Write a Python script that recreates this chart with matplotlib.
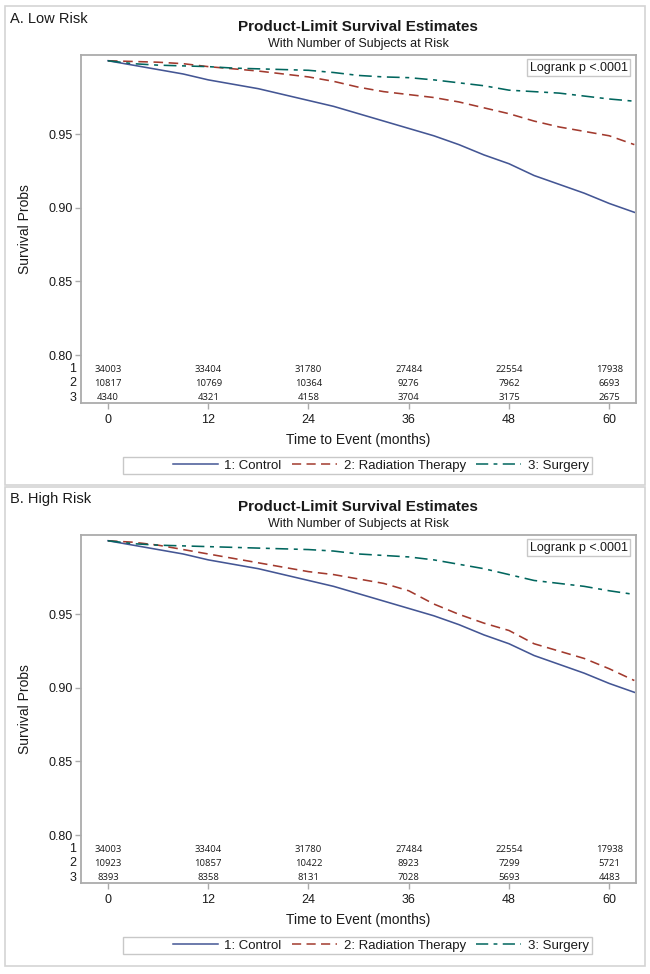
import matplotlib
matplotlib.use("Agg")
import matplotlib.pyplot as plt
from matplotlib.patches import Rectangle
from matplotlib.lines import Line2D
from matplotlib.transforms import blended_transform_factory

plt.rcParams['font.family'] = ['Liberation Sans', 'DejaVu Sans']

W, H = 650, 974

# ---------------- data ----------------
months = [0, 3, 6, 9, 12, 15, 18, 21, 24, 27, 30, 33, 36, 39, 42, 45, 48, 51, 54, 57, 60, 63]

control = [1.000, 0.997, 0.994, 0.991, 0.987, 0.984, 0.981, 0.977, 0.973, 0.969, 0.964, 0.959,
           0.954, 0.949, 0.943, 0.936, 0.930, 0.922, 0.916, 0.910, 0.903, 0.897]

low_radiation = [1.000, 0.9995, 0.999, 0.998, 0.996, 0.9945, 0.993, 0.991, 0.989, 0.986, 0.982, 0.979,
                 0.977, 0.975, 0.972, 0.968, 0.964, 0.959, 0.955, 0.952, 0.949, 0.943]
low_surgery = [1.000, 0.998, 0.997, 0.9965, 0.996, 0.995, 0.9945, 0.994, 0.9935, 0.992, 0.990, 0.989,
               0.9885, 0.987, 0.985, 0.983, 0.980, 0.979, 0.978, 0.976, 0.974, 0.9725]

high_radiation = [1.000, 0.999, 0.997, 0.994, 0.991, 0.988, 0.985, 0.982, 0.979, 0.977, 0.974, 0.971,
                  0.966, 0.957, 0.950, 0.944, 0.939, 0.930, 0.925, 0.920, 0.913, 0.905]
high_surgery = [1.000, 0.998, 0.997, 0.9965, 0.996, 0.9955, 0.995, 0.9945, 0.994, 0.993, 0.991, 0.990,
                0.989, 0.987, 0.984, 0.981, 0.977, 0.973, 0.971, 0.969, 0.966, 0.9635]

risk_times = [0, 12, 24, 36, 48, 60]
low_risk_control = [34003, 33404, 31780, 27484, 22554, 17938]
low_risk_radiation = [10817, 10769, 10364, 9276, 7962, 6693]
low_risk_surgery = [4340, 4321, 4158, 3704, 3175, 2675]
high_risk_control = [34003, 33404, 31780, 27484, 22554, 17938]
high_risk_radiation = [10923, 10857, 10422, 8923, 7299, 5721]
high_risk_surgery = [8393, 8358, 8131, 7028, 5693, 4483]

y_ticks = [0.80, 0.85, 0.90, 0.95]
group_labels = ['1: Control', '2: Radiation Therapy', '3: Surgery']
panel_titles = ['A. Low Risk', 'B. High Risk']

colors = ['#445694', '#A23A2E', '#01665E']

panels = [
    (panel_titles[0], [control, low_radiation, low_surgery],
     [low_risk_control, low_risk_radiation, low_risk_surgery]),
    (panel_titles[1], [control, high_radiation, high_surgery],
     [high_risk_control, high_risk_radiation, high_risk_surgery]),
]

fig = plt.figure(figsize=(W / 100, H / 100), dpi=100)
fig.patch.set_facecolor('white')


def fx(x):
    return x / W


def fy(y):
    return 1 - y / H


def add_line(ax, x, y, i, lw=1.15):
    if i == 0:
        ls = dict(linestyle='-')
    elif i == 1:
        ls = dict(dashes=(6, 3.5))
    else:
        ls = dict(dashes=(8, 3.5, 2.5, 3.5))
    return ax.plot(x, y, color=colors[i], lw=lw, **ls)[0]


spine_col = '#ababab'
text_col = '#1a1a1a'

for k, (ptitle, curves, risks) in enumerate(panels):
    off = 480 * k
    # panel border
    top = 6 if k == 0 else 487
    bot = 485 if k == 0 else 966
    fig.patches.append(Rectangle((fx(5), fy(bot)), fx(640), (bot - top) / H,
                                 transform=fig.transFigure, fill=False,
                                 edgecolor='#d4d4d4', lw=1.2))
    fig.text(fx(10), fy(19 + off), ptitle, fontsize=10.5, ha='left', va='center', color=text_col)
    fig.text(fx(358), fy(27 + off), 'Product-Limit Survival Estimates', fontsize=11,
             fontweight='bold', ha='center', va='center', color=text_col)
    fig.text(fx(358), fy(44 + off), 'With Number of Subjects at Risk', fontsize=9,
             ha='center', va='center', color=text_col)

    al, at, ar, ab = 81, 55 + off, 636, 403 + off
    ax = fig.add_axes([fx(al), fy(ab), (ar - al) / W, (ab - at) / H])
    for i, c in enumerate(curves):
        add_line(ax, months, c, i)
    ax.set_xlim(-3.23, 63.2)
    ax.set_ylim(0.7674, 1.0039)
    ax.set_xticks(risk_times)
    ax.set_yticks(y_ticks)
    ax.set_yticklabels([f'{v:.2f}' for v in y_ticks])
    for s in ax.spines.values():
        s.set_color(spine_col)
        s.set_linewidth(1.3)
    ax.tick_params(axis='both', colors=spine_col, labelcolor=text_col, labelsize=9,
                   length=4, width=1.0, direction='out')
    ax.tick_params(axis='x', pad=4)
    ax.tick_params(axis='y', pad=2)
    ax.set_xlabel('Time to Event (months)', fontsize=10, color=text_col, labelpad=5)
    fig.text(fx(25), fy((at + ab) / 2), 'Survival Probs', rotation=90, fontsize=10,
             ha='center', va='center', color=text_col)

    # Logrank box
    ax.text(0.985, 0.98, 'Logrank p <.0001', transform=ax.transAxes, ha='right', va='top',
            fontsize=9, color=text_col,
            bbox=dict(boxstyle='square,pad=0.2', facecolor='white', edgecolor='#c8c8c8', lw=1.0))

    # at risk table
    tr = blended_transform_factory(ax.transData, ax.transAxes)
    trl = blended_transform_factory(fig.transFigure, ax.transAxes)
    row_y = [(ab - (369 + off)) / (ab - at), (ab - (383 + off)) / (ab - at), (ab - (398 + off)) / (ab - at)]
    for r, (vals, yy) in enumerate(zip(risks, row_y)):
        fig.text(fx(76), yy, str(r + 1), transform=trl, ha='right', va='center',
                 fontsize=9, color=text_col)
        for t, v in zip(risk_times, vals):
            ax.text(t, yy, str(v), transform=tr, ha='center', va='center', fontsize=6.8,
                    family=['Open Sans', 'DejaVu Sans'], color=text_col)

    # legend
    fig.patches.append(Rectangle((fx(123), fy(474 + off)), (592 - 123) / W, 17 / H,
                                 transform=fig.transFigure, fill=False,
                                 edgecolor='#c8c8c8', lw=1.0))
    handles = []
    for i in range(3):
        if i == 0:
            h = Line2D([], [], color=colors[i], lw=1.1)
        elif i == 1:
            h = Line2D([], [], color=colors[i], lw=1.1, dashes=(6, 3.5))
        else:
            h = Line2D([], [], color=colors[i], lw=1.1, dashes=(8, 3.5, 2.5, 3.5))
        handles.append(h)
    fig.legend(handles, group_labels, loc='center right',
               bbox_to_anchor=(fx(590), fy(465.5 + off)), ncol=3, frameon=False,
               fontsize=9.5, handlelength=3.4, handletextpad=0.5, columnspacing=0.8,
               borderpad=0.1, borderaxespad=0.0, labelcolor=text_col)

fig.savefig('out.png', dpi=100)
